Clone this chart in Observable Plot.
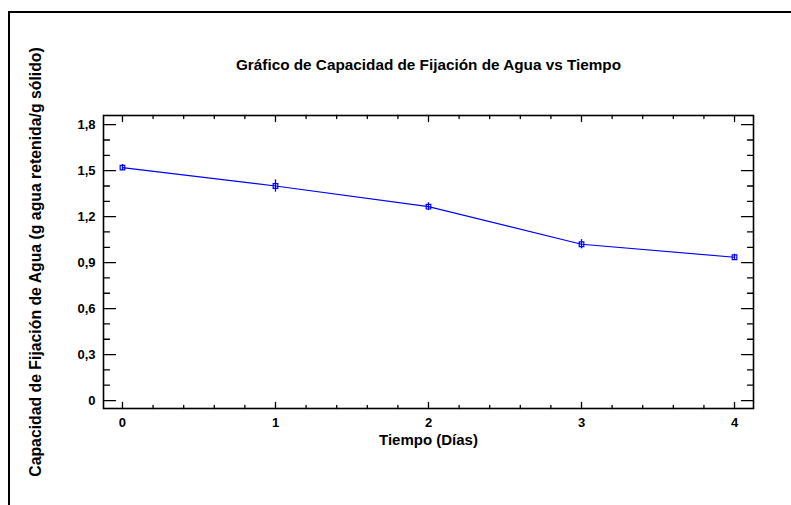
<!DOCTYPE html>
<html><head><meta charset="utf-8">
<script src="https://cdn.jsdelivr.net/npm/d3@7"></script>
<script src="https://cdn.jsdelivr.net/npm/@observablehq/plot@0.6"></script>
<style>
html,body{margin:0;padding:0;background:#fff;}
svg{font-family:"Liberation Sans",Arial,sans-serif;}
</style>
</head><body>
<div id="chart"></div>
<script>
const days = [0, 1, 2, 3, 4];
const capacity = [1.52, 1.40, 1.265, 1.02, 0.935];
const errLow = [1.50, 1.36, 1.24, 0.99, 0.915];
const errHigh = [1.54, 1.44, 1.29, 1.05, 0.955];
const xTicks = [0, 1, 2, 3, 4];
const xMinor = [0.2, 0.4, 0.6, 0.8, 1.2, 1.4, 1.6, 1.8, 2.2, 2.4, 2.6, 2.8, 3.2, 3.4, 3.6, 3.8];
const yTicks = [0, 0.3, 0.6, 0.9, 1.2, 1.5, 1.8];
const yMinor = [0.1, 0.2, 0.4, 0.5, 0.7, 0.8, 1.0, 1.1, 1.3, 1.4, 1.6, 1.7];
const title = "Gráfico de Capacidad de Fijación de Agua vs Tiempo";
const xLabel = "Tiempo (Días)";
const yLabel = "Capacidad de Fijación de Agua (g agua retenida/g sólido)";

const data = days.map((d, i) => ({day: d, v: capacity[i], lo: errLow[i], hi: errHigh[i]}));
const tickShape = {draw(context, l) { context.moveTo(0, 0); context.lineTo(0, -l); }};
const blue = "#0000ff";
const fmtY = d => d === 0 ? "0" : d.toFixed(1).replace(".", ",");

const chart = Plot.plot({
  width: 791, height: 505,
  marginLeft: 103, marginRight: 38, marginTop: 115, marginBottom: 97,
  style: {fontFamily: "Liberation Sans, Arial, sans-serif", background: "#fff"},
  x: {domain: [-0.124, 4.124]},
  y: {domain: [-0.052, 1.86]},
  marks: [
    Plot.vector(xTicks, {x: d => d, frameAnchor: "bottom", length: 6, rotate: 0, anchor: "start", shape: tickShape, stroke: "#000", strokeWidth: 1.3}),
    Plot.vector(xMinor, {x: d => d, frameAnchor: "bottom", length: 3, rotate: 0, anchor: "start", shape: tickShape, stroke: "#000", strokeWidth: 1.3}),
    Plot.vector(xTicks, {x: d => d, frameAnchor: "top", length: 6, rotate: 180, anchor: "start", shape: tickShape, stroke: "#000", strokeWidth: 1.3}),
    Plot.vector(xMinor, {x: d => d, frameAnchor: "top", length: 3, rotate: 180, anchor: "start", shape: tickShape, stroke: "#000", strokeWidth: 1.3}),
    Plot.vector(yTicks, {y: d => d, frameAnchor: "left", length: 12, rotate: 90, anchor: "start", shape: tickShape, stroke: "#000", strokeWidth: 1.3}),
    Plot.vector(yMinor, {y: d => d, frameAnchor: "left", length: 6, rotate: 90, anchor: "start", shape: tickShape, stroke: "#000", strokeWidth: 1.3}),
    Plot.vector(yTicks, {y: d => d, frameAnchor: "right", length: 12, rotate: -90, anchor: "start", shape: tickShape, stroke: "#000", strokeWidth: 1.3}),
    Plot.vector(yMinor, {y: d => d, frameAnchor: "right", length: 6, rotate: -90, anchor: "start", shape: tickShape, stroke: "#000", strokeWidth: 1.3}),
    Plot.axisX({ticks: xTicks, tickSize: 0, tickPadding: 9, tickFormat: d => String(d), fontSize: 13, fontWeight: "bold", label: null}),
    Plot.axisY({ticks: yTicks, tickSize: 0, tickPadding: 8, tickFormat: fmtY, fontSize: 13, fontWeight: "bold", label: null}),
    Plot.frame({stroke: "#000", strokeWidth: 1.6}),
    Plot.line(data, {x: "day", y: "v", stroke: blue, strokeWidth: 1.2}),
    Plot.ruleX(data, {x: "day", y1: "lo", y2: "hi", stroke: blue, strokeWidth: 1.3}),
    Plot.dot(data, {x: "day", y: "v", symbol: "square", r: 2.6, stroke: blue, fill: "none", strokeWidth: 1.2}),
    Plot.text([title], {frameAnchor: "top", dy: -56, fontSize: 15.3, fontWeight: "bold", fill: "#000"}),
    Plot.text([xLabel], {frameAnchor: "bottom", dy: 36, fontSize: 15, fontWeight: "bold", fill: "#000"}),
    Plot.text([yLabel], {frameAnchor: "left", textAnchor: "middle", dx: -68, rotate: -90, fontSize: 15.8, fontWeight: "bold", fill: "#000"})
  ]
});

d3.select(chart).append("path")
  .attr("d", "M9,505V12H791")
  .attr("fill", "none").attr("stroke", "#000").attr("stroke-width", 2);

document.getElementById("chart").appendChild(chart);
</script>
</body></html>
